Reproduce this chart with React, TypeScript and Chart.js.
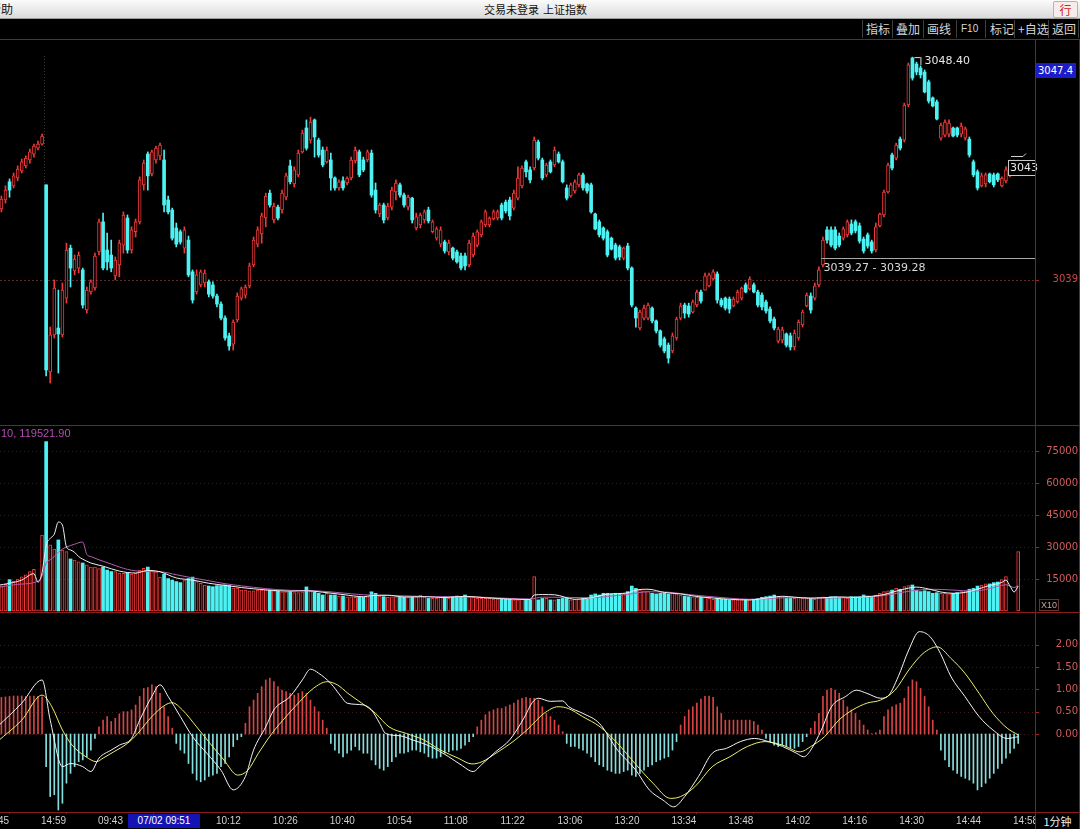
import React, { useEffect, useRef } from "react";
import { Chart, registerables } from "chart.js";
Chart.register(...registerables);

// ---------------- data ----------------
const timeTickIdx = [-4, 10, 24, 53, 67, 81, 95, 109, 123, 137, 151, 165, 179, 193, 207, 221, 235, 249];
const timeTickLabels = ["14:45", "14:59", "09:43", "10:12", "10:26", "10:40", "10:54", "11:08", "11:22", "13:06", "13:20", "13:34", "13:48", "14:02", "14:16", "14:30", "14:44", "14:58"];

const openP = [
  3041.82, 3041.99, 3042.37, 3043.14, 3042.97, 3043.30, 3043.60, 3043.81, 3044.06, 3044.31, 3044.56, 3044.73,
  3043.01, 3035.12, 3036.68, 3036.97, 3036.68, 3038.23, 3040.34, 3039.38, 3039.50, 3039.42,
  3037.73, 3038.49, 3038.66, 3040.18, 3041.45, 3040.26, 3040.05, 3039.17, 3039.63, 3040.47,
  3041.61, 3040.26, 3041.03, 3041.45, 3043.01, 3044.31, 3043.47, 3044.06, 3044.23, 3044.06,
  3042.37, 3041.95, 3041.19, 3041.03, 3040.34, 3040.68, 3039.34, 3038.49, 3038.79, 3038.87,
  3038.92, 3038.79, 3038.32, 3037.98, 3037.39, 3036.64, 3036.29, 3037.31, 3038.23, 3038.36,
  3038.75, 3039.63, 3040.51, 3040.94, 3041.61, 3042.66, 3041.53, 3042.07, 3041.95, 3042.49,
  3043.81, 3043.05, 3043.43, 3044.40, 3045.41, 3044.90, 3045.75, 3044.90, 3044.48, 3043.98,
  3044.06, 3043.30, 3042.88, 3043.18, 3043.09, 3043.30, 3044.02, 3044.40, 3044.06, 3044.06,
  3044.35, 3042.79, 3041.78, 3042.16, 3041.61, 3042.07, 3042.71, 3043.01, 3042.58, 3042.07,
  3042.45, 3041.19, 3041.32, 3041.53, 3041.95, 3041.03, 3040.76, 3040.51, 3040.60, 3040.18,
  3040.34, 3040.18, 3040.01, 3040.01, 3039.63, 3040.05, 3040.47, 3040.90, 3041.32, 3041.32,
  3041.57, 3041.61, 3042.16, 3042.28, 3042.37, 3042.03, 3042.45, 3042.97, 3043.98, 3043.64,
  3043.72, 3044.82, 3044.06, 3043.43, 3043.98, 3043.85, 3044.31, 3043.98, 3042.88, 3042.54,
  3042.75, 3043.01, 3043.43, 3043.05, 3043.01, 3041.78, 3041.45, 3041.19, 3041.03, 3040.76,
  3040.47, 3040.39, 3039.92, 3040.43, 3039.50, 3037.81, 3036.97, 3037.39, 3037.39, 3037.81,
  3037.27, 3036.85, 3036.51, 3036.25, 3036.00, 3036.55, 3037.39, 3037.94, 3037.90, 3037.64,
  3037.94, 3038.49, 3038.57, 3038.75, 3039.04, 3039.25, 3038.15, 3038.23, 3038.19, 3037.90,
  3038.07, 3038.23, 3038.79, 3038.62, 3038.79, 3038.49, 3038.36, 3038.07, 3037.77, 3037.35,
  3036.42, 3036.46, 3036.72, 3036.64, 3036.17, 3036.55, 3037.10, 3037.90, 3038.32, 3038.23,
  3038.79, 3039.63, 3041.11, 3041.11, 3041.11, 3040.85, 3040.76, 3040.90, 3041.36, 3041.45,
  3041.28, 3040.72, 3040.90, 3040.60, 3040.26, 3041.28, 3041.74, 3042.71, 3044.27, 3044.14,
  3044.94, 3044.90, 3046.38, 3048.36, 3048.11, 3047.94, 3047.77, 3047.35, 3046.68, 3046.51,
  3044.98, 3045.11, 3045.15, 3045.41, 3045.41, 3045.15, 3044.98, 3044.94, 3043.98, 3043.56,
  3042.97, 3043.05, 3043.47, 3043.43, 3043.47, 3042.97, 3043.18, 3043.43, 3043.60, 3043.51,
];
const highP = [
  3042.37, 3042.54, 3042.97, 3043.26, 3043.51, 3043.81, 3044.10, 3044.23, 3044.52, 3044.73, 3044.86, 3045.15,
  3043.01, 3037.01, 3039.00, 3038.57, 3038.87, 3040.55, 3040.47, 3040.05, 3040.18, 3039.50,
  3038.70, 3039.00, 3040.13, 3041.57, 3041.82, 3040.98, 3040.68, 3039.97, 3040.68, 3041.87,
  3041.74, 3041.24, 3041.57, 3043.35, 3044.06, 3044.40, 3044.48, 3044.65, 3044.77, 3044.48,
  3042.54, 3042.03, 3041.40, 3041.11, 3041.24, 3040.85, 3039.42, 3039.42, 3039.42, 3039.42,
  3039.00, 3038.92, 3038.40, 3038.07, 3037.48, 3036.76, 3037.31, 3038.45, 3038.70, 3038.79,
  3039.71, 3040.81, 3041.24, 3041.82, 3042.66, 3042.79, 3042.24, 3042.16, 3042.79, 3043.51,
  3044.06, 3043.77, 3044.48, 3045.32, 3045.75, 3045.87, 3045.79, 3044.98, 3044.61, 3044.61,
  3044.35, 3043.35, 3043.22, 3043.35, 3043.35, 3044.18, 3044.61, 3044.48, 3044.18, 3044.48,
  3044.48, 3043.09, 3042.24, 3042.24, 3042.24, 3042.92, 3043.22, 3043.09, 3042.66, 3042.58,
  3042.49, 3041.82, 3041.82, 3041.95, 3042.07, 3041.53, 3041.24, 3041.24, 3040.68, 3040.68,
  3040.39, 3040.26, 3040.13, 3040.13, 3040.68, 3040.98, 3041.11, 3041.53, 3041.95, 3041.66,
  3041.95, 3041.95, 3042.24, 3042.37, 3042.49, 3042.79, 3043.77, 3043.81, 3044.06, 3043.77,
  3045.03, 3044.90, 3044.14, 3043.93, 3044.06, 3044.61, 3044.40, 3044.06, 3043.01, 3043.09,
  3043.22, 3043.51, 3043.51, 3043.09, 3043.09, 3041.82, 3041.53, 3041.24, 3041.11, 3040.81,
  3040.55, 3040.47, 3040.39, 3040.55, 3039.55, 3037.86, 3037.73, 3037.94, 3038.02, 3037.86,
  3037.31, 3036.89, 3036.59, 3036.34, 3036.76, 3037.43, 3038.02, 3038.02, 3038.02, 3038.15,
  3038.57, 3038.57, 3039.29, 3039.29, 3039.42, 3039.34, 3038.23, 3038.28, 3038.28, 3038.28,
  3038.57, 3038.70, 3038.87, 3039.13, 3038.87, 3038.57, 3038.45, 3038.15, 3037.86, 3037.43,
  3037.01, 3037.01, 3036.76, 3036.76, 3036.89, 3037.31, 3037.73, 3038.45, 3038.45, 3038.87,
  3039.55, 3040.81, 3041.24, 3041.24, 3041.24, 3040.98, 3041.24, 3041.53, 3041.53, 3041.53,
  3041.40, 3040.81, 3040.98, 3040.68, 3041.40, 3041.82, 3042.79, 3043.93, 3044.35, 3044.77,
  3045.03, 3046.46, 3048.15, 3048.40, 3048.19, 3048.03, 3047.86, 3047.43, 3046.72, 3046.59,
  3045.62, 3045.75, 3045.75, 3045.45, 3045.45, 3045.62, 3045.45, 3045.03, 3044.06, 3043.64,
  3043.51, 3043.51, 3043.51, 3043.51, 3043.51, 3043.35, 3043.77, 3044.06, 3044.06, 3044.06,
];
const lowP = [
  3041.74, 3041.87, 3042.24, 3042.49, 3042.88, 3043.18, 3043.51, 3043.72, 3043.93, 3044.18, 3044.48, 3044.69,
  3034.95, 3034.65, 3036.55, 3035.07, 3036.59, 3038.02, 3038.70, 3039.21, 3039.29, 3037.81,
  3037.60, 3038.40, 3038.57, 3040.05, 3039.42, 3039.42, 3039.34, 3039.00, 3039.13, 3040.13,
  3040.13, 3040.13, 3040.81, 3041.36, 3042.79, 3042.79, 3043.39, 3043.93, 3044.06, 3041.87,
  3041.78, 3040.68, 3040.39, 3040.51, 3040.13, 3039.13, 3038.02, 3038.40, 3038.70, 3038.70,
  3038.28, 3038.23, 3037.86, 3037.31, 3036.46, 3036.04, 3036.04, 3037.22, 3038.15, 3038.23,
  3038.66, 3039.55, 3040.39, 3040.55, 3041.24, 3042.07, 3041.40, 3041.53, 3041.82, 3042.37,
  3043.05, 3042.92, 3043.35, 3044.35, 3044.48, 3044.77, 3044.18, 3044.18, 3043.77, 3043.93,
  3042.79, 3042.79, 3042.79, 3042.79, 3043.01, 3043.22, 3043.93, 3043.35, 3043.56, 3043.98,
  3042.49, 3041.82, 3041.66, 3041.40, 3041.53, 3041.95, 3042.37, 3042.49, 3042.07, 3041.95,
  3041.40, 3041.11, 3041.19, 3041.40, 3041.40, 3040.98, 3040.68, 3040.39, 3040.13, 3040.05,
  3039.84, 3039.71, 3039.42, 3039.42, 3039.55, 3039.97, 3040.39, 3040.81, 3041.24, 3041.24,
  3041.53, 3041.53, 3041.53, 3041.82, 3041.53, 3041.95, 3042.37, 3042.88, 3043.35, 3043.09,
  3043.64, 3044.06, 3043.22, 3043.35, 3043.51, 3043.77, 3043.93, 3043.09, 3042.37, 3042.49,
  3042.66, 3042.92, 3042.79, 3042.66, 3041.82, 3041.11, 3040.81, 3040.68, 3039.97, 3040.26,
  3039.84, 3039.84, 3039.84, 3039.42, 3037.86, 3037.01, 3036.89, 3037.31, 3037.31, 3037.18,
  3036.76, 3036.17, 3035.92, 3035.49, 3035.92, 3036.46, 3037.31, 3037.39, 3037.43, 3037.60,
  3037.86, 3038.02, 3038.57, 3038.70, 3039.00, 3038.02, 3037.86, 3037.73, 3037.60, 3037.86,
  3038.02, 3038.15, 3038.45, 3038.57, 3038.45, 3037.86, 3037.73, 3037.60, 3037.18, 3036.89,
  3036.34, 3036.34, 3036.17, 3036.04, 3036.04, 3036.46, 3037.01, 3037.86, 3037.60, 3038.15,
  3038.70, 3039.55, 3040.55, 3040.39, 3040.26, 3040.39, 3040.68, 3040.81, 3040.90, 3040.98,
  3040.55, 3040.13, 3040.34, 3040.13, 3040.18, 3041.24, 3041.66, 3042.66, 3043.64, 3044.06,
  3044.48, 3044.82, 3046.30, 3047.43, 3047.65, 3047.52, 3046.89, 3046.46, 3046.30, 3045.75,
  3044.90, 3045.03, 3045.03, 3045.03, 3045.03, 3045.03, 3044.90, 3044.18, 3043.35, 3042.79,
  3042.92, 3042.92, 3043.09, 3042.92, 3043.14, 3042.92, 3043.09, 3043.35, 3043.51, 3043.47,
];
const closeP = [
  3042.24, 3042.41, 3042.79, 3042.79, 3043.39, 3043.68, 3043.98, 3044.14, 3044.40, 3044.65, 3044.73, 3045.07,
  3035.20, 3036.68, 3038.66, 3036.72, 3038.57, 3040.26, 3039.50, 3039.88, 3040.05, 3037.94,
  3038.57, 3038.92, 3040.01, 3041.45, 3039.50, 3039.76, 3039.50, 3039.84, 3040.55, 3041.74,
  3040.26, 3041.11, 3041.45, 3043.22, 3043.93, 3043.39, 3044.40, 3044.56, 3044.69, 3042.16,
  3041.87, 3040.76, 3040.51, 3040.60, 3041.11, 3039.21, 3038.15, 3039.21, 3039.34, 3039.29,
  3038.40, 3038.32, 3037.98, 3037.39, 3036.55, 3036.21, 3037.22, 3038.32, 3038.62, 3038.70,
  3039.59, 3040.68, 3041.11, 3041.70, 3042.54, 3042.16, 3042.12, 3041.61, 3042.66, 3043.39,
  3043.14, 3043.64, 3044.35, 3045.19, 3044.56, 3045.66, 3045.03, 3044.27, 3043.85, 3044.48,
  3043.30, 3042.88, 3043.14, 3042.88, 3043.30, 3044.06, 3044.48, 3043.43, 3043.64, 3044.40,
  3042.58, 3041.95, 3042.16, 3041.53, 3042.12, 3042.79, 3043.09, 3042.58, 3042.16, 3042.49,
  3041.53, 3041.66, 3041.74, 3041.87, 3041.49, 3041.45, 3041.15, 3041.11, 3040.22, 3040.55,
  3039.92, 3039.76, 3039.50, 3039.59, 3040.55, 3040.85, 3041.03, 3041.45, 3041.87, 3041.61,
  3041.87, 3041.87, 3041.61, 3041.91, 3041.70, 3042.66, 3043.30, 3043.72, 3043.56, 3043.22,
  3044.90, 3044.14, 3043.30, 3043.85, 3043.56, 3044.48, 3043.98, 3043.14, 3042.45, 3043.01,
  3043.14, 3043.43, 3042.88, 3042.75, 3041.87, 3041.15, 3040.90, 3040.76, 3040.05, 3040.30,
  3039.92, 3039.97, 3040.34, 3039.50, 3037.94, 3037.39, 3037.64, 3037.81, 3037.94, 3037.27,
  3036.85, 3036.25, 3036.00, 3035.70, 3036.64, 3037.35, 3037.90, 3037.60, 3037.56, 3038.07,
  3038.49, 3038.11, 3039.17, 3039.21, 3039.34, 3038.15, 3037.94, 3037.81, 3037.77, 3038.19,
  3038.49, 3038.66, 3038.49, 3039.04, 3038.49, 3037.94, 3037.86, 3037.69, 3037.27, 3036.97,
  3036.93, 3036.89, 3036.25, 3036.17, 3036.76, 3037.22, 3037.64, 3038.36, 3037.73, 3038.75,
  3039.42, 3040.68, 3040.68, 3040.47, 3040.34, 3040.47, 3041.15, 3041.45, 3040.98, 3041.07,
  3040.64, 3040.22, 3040.43, 3040.22, 3041.24, 3041.78, 3042.71, 3043.85, 3043.72, 3044.69,
  3044.56, 3046.38, 3048.07, 3047.52, 3047.77, 3047.65, 3046.93, 3046.55, 3046.34, 3045.79,
  3045.53, 3045.66, 3045.62, 3045.07, 3045.11, 3045.49, 3045.37, 3044.27, 3043.43, 3042.88,
  3043.39, 3043.43, 3043.14, 3043.01, 3043.22, 3043.30, 3043.64, 3043.85, 3043.89, 3043.72,
];

// volume in axis units (axis shows x10)
const volume = [
  12000, 11800, 12500, 14700, 14000, 15000, 16000, 17000, 18500, 19500, 500, 35600,
  79400, 31000, 29000, 33300, 28600, 27800, 24400, 23900, 23000, 22500,
  21600, 20600, 20600, 19900, 20600, 19200, 18500, 18500, 17800, 17600,
  18000, 17300, 17600, 19200, 20000, 20600, 19200, 18400, 15900, 17300,
  15200, 14500, 13800, 13300, 14500, 15200, 15900, 13800, 13000, 12200,
  11700, 11400, 11900, 11900, 12200, 11900, 10800, 10800, 9800, 9800,
  9500, 9500, 9800, 9800, 9800, 9800, 9500, 9300, 9000, 9000,
  9000, 8600, 8600, 9000, 11300, 9500, 9000, 8300, 7500, 8300,
  7500, 7500, 7000, 7000, 6700, 6700, 6400, 6700, 6400, 6700,
  9000, 8300, 7000, 6700, 6400, 6700, 6700, 6400, 6400, 6400,
  6400, 6700, 7500, 6700, 5900, 5900, 5900, 6400, 6700, 5900,
  6700, 7000, 6700, 7500, 6700, 6400, 5900, 5900, 5900, 5900,
  5600, 5600, 5500, 5500, 5500, 5200, 5200, 5500, 5500, 5200,
  16100, 5200, 5900, 5900, 5200, 5200, 5500, 5900, 5900, 5200,
  5500, 5500, 5900, 5500, 7500, 8000, 7500, 8300, 8300, 8000,
  8300, 8000, 8300, 9100, 11700, 10600, 9800, 9500, 9500, 8300,
  8000, 8300, 8300, 8000, 8300, 8000, 7500, 7000, 6700, 6700,
  6400, 6400, 6400, 5900, 5500, 5900, 5500, 5500, 5200, 5200,
  5200, 5200, 5200, 5200, 5500, 5900, 6400, 6700, 7000, 7500,
  7000, 6700, 5900, 5900, 5900, 6400, 5900, 5900, 5900, 5500,
  6400, 6700, 6400, 6700, 6700, 6400, 6400, 5900, 6700, 6700,
  6700, 7500, 7000, 6700, 7500, 8300, 9100, 9500, 9800, 10600,
  10200, 11400, 11900, 12200, 9800, 9100, 9500, 9100, 8300, 8600,
  8300, 8300, 8000, 8300, 8600, 9100, 9500, 10200, 10600, 11700,
  12200, 12700, 12700, 13300, 13600, 14700, 16100, 0, 0, 27800,
];

// volume moving averages at sample candles: [index, value]
const volMa5 = [
  [0, 12000], [3, 13000], [6, 14500], [9, 17500], [10, 13500], [11, 18000], [12, 30700], [13, 34000], [14, 36000],
  [15, 41700], [16, 40300], [17, 30000], [18, 28600], [19, 27500], [20, 25500], [21, 24300], [23, 22500], [26, 21000],
  [30, 18700], [34, 17800], [37, 19000], [40, 18400], [44, 15500], [48, 14500], [52, 13000], [56, 12000], [60, 11000],
  [66, 9900], [72, 9300], [76, 9500], [80, 8800], [85, 7700], [90, 6700], [92, 7200], [96, 7400], [100, 6600],
  [105, 6700], [110, 6300], [115, 6900], [120, 6200], [126, 5600], [131, 5400], [132, 7500], [134, 7700], [137, 7600],
  [142, 5500], [146, 6200], [150, 7900], [155, 8500], [157, 9800], [160, 10200], [164, 8700], [168, 8000], [172, 6800],
  [176, 6100], [180, 5500], [185, 5200], [190, 6300], [193, 6900], [196, 6500], [200, 6000], [203, 6200], [207, 6600],
  [211, 6400], [215, 6900], [218, 7700], [221, 9300], [224, 10700], [226, 11200], [229, 10300], [232, 8900], [235, 8300],
  [238, 8700], [241, 10200], [244, 12000], [247, 13400], [248, 14500], [249, 11700], [250, 8900], [251, 11700],
];
const volMa10 = [
  [0, 11000], [5, 12500], [10, 14000], [11, 16500], [12, 22500], [13, 24000], [14, 25500], [15, 27500], [16, 29000],
  [17, 30000], [18, 30700], [19, 31300], [20, 32000], [21, 32300], [22, 26500], [23, 25500], [25, 24000], [28, 22000],
  [32, 19500], [36, 18500], [40, 18400], [44, 17000], [48, 15500], [52, 14200], [56, 12800], [60, 11800], [66, 10500],
  [72, 9700], [78, 9500], [84, 8600], [90, 7600], [96, 7300], [102, 7000], [108, 6700], [114, 6700], [120, 6400],
  [126, 5900], [131, 5600], [134, 6500], [140, 6400], [146, 6200], [150, 6800], [155, 7800], [160, 9000], [165, 8800],
  [170, 7700], [175, 6800], [180, 6000], [185, 5500], [190, 5900], [195, 6300], [200, 6100], [205, 6100], [210, 6300],
  [215, 6600], [220, 7900], [225, 9500], [230, 10200], [235, 9800], [240, 9300], [244, 10500], [248, 12300], [250, 11000],
  [251, 11950],
];

const macdHist = [
  0.80, 0.82, 0.83, 0.84, 0.85, 0.85, 0.85, 0.84, 0.85, 0.85, 0.84, 0.83,
  -0.73, -1.40, -1.36, -1.70, -1.55, -1.10, -0.88, -0.73, -0.62, -0.58,
  -0.51, -0.36, -0.10, 0.16, 0.31, 0.39, 0.28, 0.35, 0.45, 0.50,
  0.50, 0.54, 0.65, 0.84, 1.02, 1.04, 1.10, 1.06, 0.91, 0.61,
  0.39, 0.13, -0.21, -0.36, -0.43, -0.66, -0.88, -1.03, -1.07, -1.03,
  -0.95, -0.92, -0.88, -0.73, -0.66, -0.51, -0.28, -0.13, -0.06, 0.24,
  0.61, 0.76, 0.91, 1.06, 1.21, 1.25, 1.17, 1.06, 0.98, 0.95,
  0.91, 0.87, 0.91, 0.95, 0.91, 0.76, 0.61, 0.50, 0.31, 0.13,
  -0.21, -0.36, -0.43, -0.51, -0.43, -0.36, -0.28, -0.36, -0.43, -0.43,
  -0.58, -0.69, -0.77, -0.81, -0.73, -0.62, -0.51, -0.43, -0.43, -0.40,
  -0.36, -0.36, -0.40, -0.43, -0.51, -0.54, -0.54, -0.51, -0.43, -0.40,
  -0.36, -0.36, -0.32, -0.25, -0.17, -0.06, 0.16, 0.31, 0.43, 0.50,
  0.54, 0.57, 0.57, 0.61, 0.65, 0.69, 0.76, 0.80, 0.82, 0.80,
  0.80, 0.76, 0.61, 0.46, 0.39, 0.31, 0.20, 0.05, -0.21, -0.28,
  -0.28, -0.32, -0.36, -0.43, -0.51, -0.62, -0.69, -0.73, -0.81, -0.84,
  -0.88, -0.88, -0.84, -0.81, -0.92, -0.95, -0.88, -0.81, -0.73, -0.69,
  -0.62, -0.58, -0.54, -0.51, -0.36, -0.17, 0.20, 0.39, 0.54, 0.61,
  0.69, 0.78, 0.84, 0.85, 0.82, 0.61, 0.46, 0.31, 0.31, 0.31,
  0.31, 0.31, 0.31, 0.31, 0.28, 0.20, 0.09, -0.10, -0.17, -0.25,
  -0.28, -0.25, -0.28, -0.32, -0.32, -0.28, -0.17, -0.06, 0.13, 0.28,
  0.46, 0.84, 0.98, 1.02, 0.98, 0.91, 0.76, 0.61, 0.54, 0.46,
  0.31, 0.20, 0.09, 0.01, 0.03, 0.09, 0.39, 0.54, 0.61, 0.65,
  0.69, 0.80, 1.06, 1.21, 1.17, 1.02, 0.84, 0.61, 0.31, 0.09,
  -0.36, -0.58, -0.73, -0.81, -0.88, -0.95, -0.99, -1.03, -1.10, -1.25,
  -1.18, -1.10, -0.99, -0.88, -0.77, -0.66, -0.54, -0.43, -0.32, -0.21,
];

// DIF / DEA read at sample candles: [index, value]
const difLine = [
  [0, 0.16], [6, 0.69], [11, 1.21], [13, 0.31], [16, -0.73], [18, -0.66], [21, -0.73], [23, -0.84], [25, -0.54],
  [28, -0.36], [30, -0.25], [33, -0.10], [35, 0.31], [38, 0.84], [40, 1.10], [42, 0.84], [45, 0.39], [48, -0.06],
  [51.5, -0.43], [55, -0.81], [58, -1.25], [61, -0.95], [63, -0.36], [66, 0.16], [68, 0.54], [72, 0.84], [75, 1.21],
  [77, 1.45], [79, 1.36], [82, 1.13], [84.5, 0.84], [86, 0.69], [90, 0.65], [92, 0.54], [94, 0.24], [95.5, 0.01],
  [99, -0.04], [102, -0.13], [106.5, -0.28], [111, -0.51], [114, -0.69], [117, -0.84], [119, -0.69], [122.5, -0.40],
  [126, -0.13], [129.5, 0.36], [131.5, 0.70], [133, 0.80], [136, 0.73], [139, 0.74], [140.5, 0.61], [144, 0.46],
  [148, 0.24], [152.5, -0.36], [157, -0.81], [160.3, -1.25], [163.7, -1.48], [166.3, -1.63], [169, -1.40],
  [172.4, -0.95], [175.8, -0.43], [179.3, -0.32], [182.7, -0.17], [186.2, -0.10], [189.6, -0.17], [193.1, -0.28],
  [196.5, -0.43], [198.3, -0.51], [200, -0.36], [202.6, 0.09], [205.1, 0.61], [208.6, 0.84], [211.2, 0.98],
  [213.8, 0.91], [217.2, 0.80], [218.9, 0.84], [221.5, 1.28], [224.1, 1.88], [226.7, 2.29], [229.3, 2.18],
  [231.9, 1.80], [234.5, 1.28], [237.9, 0.84], [241.4, 0.39], [244.8, 0.09], [248.3, -0.10], [251, -0.06],
];
const deaLine = [
  [0, -0.17], [6, 0.31], [11, 0.87], [13.4, 0.61], [16, 0.09], [18.4, -0.25], [21.8, -0.51], [24.4, -0.62], [26, -0.54],
  [28.6, -0.40], [32, -0.21], [34.5, 0.01], [38, 0.39], [41.3, 0.65], [43, 0.70], [45.5, 0.54], [49, 0.16], [52.3, -0.21],
  [55.7, -0.58], [59.1, -0.92], [61.6, -0.81], [64.2, -0.43], [67.5, 0.01], [71, 0.39], [74.3, 0.72], [77.7, 1.02],
  [81.1, 1.17], [83.6, 1.10], [86.2, 0.91], [89.6, 0.69], [93, 0.46], [96.3, 0.16], [100.6, 0.01], [104.8, -0.13],
  [109, -0.36], [113.3, -0.54], [116.7, -0.67], [119.2, -0.62], [122.6, -0.43], [126.8, -0.17], [130.2, 0.09],
  [132.5, 0.30], [134.4, 0.46], [137.9, 0.61], [140.4, 0.57], [143.9, 0.39], [148.2, 0.16], [152.5, -0.21],
  [156.8, -0.66], [161.2, -1.10], [165.5, -1.44], [168, -1.40], [171.5, -1.18], [175.8, -0.73], [180.1, -0.51],
  [184.4, -0.28], [188.8, -0.17], [193.1, -0.25], [197.4, -0.40], [200, -0.28], [203.4, -0.06], [206.9, 0.31],
  [210.3, 0.54], [213.8, 0.69], [217.2, 0.76], [220.7, 0.98], [224.1, 1.43], [227.6, 1.80], [231.1, 1.95],
  [234.5, 1.69], [237.9, 1.36], [241.4, 0.91], [244.8, 0.46], [248.3, 0.13], [251, -0.02],
];

const priceTicks = [3039];
const volTicks = [15000, 30000, 45000, 60000, 75000];
const macdTicks = [0, 0.5, 1, 1.5, 2];

const toolButtons = ["指标", "叠加", "画线", "F10", "标记", "+自选", "返回"];
const titleText = ["交易未登录", "上证指数"];
const volTitle = "10, 119521.90";
const cursorPriceLabel = "3047.4";
const cursorTimeLabel = "07/02 09:51";
const periodLabel = "1分钟";
const markLineValue = 3039.93;
const markLineStart = 202.5;
const markLineText = "3039.27 - 3039.28";

// ---------------- layout / style ----------------
const X_MIN = -5.245;
const X_MAX = 255.14;
const RED = "#f03a3a";
const CYAN = "#4ef2f2";
const H_RED = "#d84444";
const H_CYAN = "#86dede";
const FRAME = "#8a1c1c";
const AXIS_FONT = { family: "DejaVu Sans", size: 10 };

const hGridPlugin = {
  id: "hgrid",
  beforeDatasetsDraw(chart: any, _a: any, opts: any) {
    const { ctx, chartArea: a, scales } = chart;
    const y = scales.y;
    ctx.save();
    for (const v of opts.values || []) {
      const py = Math.round(y.getPixelForValue(v)) + 0.5;
      ctx.strokeStyle = opts.color;
      ctx.lineWidth = 1;
      ctx.setLineDash(opts.dash || []);
      ctx.beginPath();
      ctx.moveTo(a.left, py);
      ctx.lineTo(a.right, py);
      ctx.stroke();
      ctx.setLineDash([]);
      ctx.strokeStyle = opts.tickColor;
      ctx.beginPath();
      ctx.moveTo(a.right, py);
      ctx.lineTo(a.right + 4, py);
      ctx.stroke();
    }
    ctx.restore();
  },
};

const mainAnnotPlugin = {
  id: "mainAnnot",
  afterDatasetsDraw(chart: any) {
    const { ctx, chartArea: a, scales } = chart;
    const x = scales.x;
    const y = scales.y;
    ctx.save();
    // day separator
    const sx = Math.round((x.getPixelForValue(11) + x.getPixelForValue(12)) / 2) + 0.5;
    ctx.strokeStyle = "#3a3a3a";
    ctx.setLineDash([1, 2]);
    ctx.beginPath();
    ctx.moveTo(sx, a.top + 15);
    ctx.lineTo(sx, y.getPixelForValue(highP[12]) - 2);
    ctx.stroke();
    ctx.setLineDash([]);

    // highest price marker
    let hi = 0;
    highP.forEach((v, i) => { if (v > highP[hi]) hi = i; });
    const hx = x.getPixelForValue(hi);
    const hy = y.getPixelForValue(highP[hi]);
    ctx.strokeStyle = "#dcdcdc";
    ctx.lineWidth = 1;
    ctx.beginPath();
    ctx.moveTo(hx + 2, hy + 0.5);
    ctx.lineTo(hx + 8, hy + 0.5);
    ctx.moveTo(hx + 8.5, hy);
    ctx.lineTo(hx + 8.5, hy + 8);
    ctx.stroke();
    ctx.fillStyle = "#e6e6e6";
    ctx.font = '11px "DejaVu Sans"';
    ctx.textBaseline = "middle";
    ctx.fillText(highP[hi].toFixed(2), hx + 12, hy + 4);

    // user drawn horizontal line
    const mx = Math.round(x.getPixelForValue(markLineStart)) + 0.5;
    const my = Math.round(y.getPixelForValue(markLineValue)) + 0.5;
    ctx.strokeStyle = "#a8a8a8";
    ctx.beginPath();
    ctx.moveTo(mx, my);
    ctx.lineTo(a.right, my);
    ctx.stroke();
    ctx.fillStyle = "#d8d8d8";
    ctx.font = '11px "DejaVu Sans"';
    ctx.textBaseline = "top";
    ctx.fillText(markLineText, mx + 2, my + 4);

    // last price box
    const last = closeP.length - 1;
    const ly = Math.round(y.getPixelForValue(closeP[last]));
    const bx = a.right - 27;
    ctx.fillStyle = "#000";
    ctx.fillRect(bx, ly - 8, 27, 16);
    ctx.strokeStyle = "#c8c8c8";
    ctx.strokeRect(bx + 0.5, ly - 7.5, 27, 15);
    ctx.fillStyle = "#e8e8e8";
    ctx.textBaseline = "middle";
    ctx.fillText(String(Math.floor(closeP[last])), bx + 2, ly + 0.5);
    ctx.strokeStyle = "#d0d0d0";
    ctx.beginPath();
    ctx.moveTo(bx + 3, ly - 11.5);
    ctx.lineTo(bx + 15, ly - 11.5);
    ctx.lineTo(bx + 18, ly - 14.5);
    ctx.stroke();
    ctx.restore();
  },
};

const xScale = (display: boolean): any => ({
  type: "linear",
  min: X_MIN,
  max: X_MAX,
  display,
  offset: false,
  grid: { display: display, drawOnChartArea: false, drawTicks: true, tickLength: 2, color: FRAME, tickColor: FRAME },
  border: { display: false },
  afterBuildTicks: (s: any) => {
    s.ticks = timeTickIdx.map((v) => ({ value: v }));
  },
  afterFit: (s: any) => {
    s.height = display ? 17 : 0;
    s.paddingLeft = 0;
    s.paddingRight = 0;
    s.paddingTop = 0;
    s.paddingBottom = 0;
  },
  ticks: {
    autoSkip: false,
    maxRotation: 0,
    minRotation: 0,
    align: "start",
    labelOffset: 3,
    padding: 1,
    color: "#cfcfcf",
    font: { family: "Liberation Sans", size: 10 },
    callback: (v: number) => {
      const k = timeTickIdx.indexOf(v);
      return k >= 0 ? timeTickLabels[k] : "";
    },
  },
});

const yScale = (min: number, max: number, ticks: number[], fmt: (v: number) => string, color: string): any => ({
  type: "linear",
  position: "right",
  min,
  max,
  grid: { display: false },
  border: { display: false },
  afterBuildTicks: (s: any) => {
    s.ticks = ticks.map((v) => ({ value: v }));
  },
  afterFit: (s: any) => {
    s.width = 43;
    s.paddingTop = 0;
    s.paddingBottom = 0;
    s.paddingLeft = 0;
    s.paddingRight = 0;
  },
  ticks: { color, font: AXIS_FONT, padding: 2, crossAlign: "far", callback: fmt },
});

const baseOptions = (scales: any, plugins: any): any => ({
  responsive: false,
  animation: false,
  events: [],
  layout: { padding: 0 },
  plugins: { legend: { display: false }, tooltip: { enabled: false }, ...plugins },
  scales,
});

export default function App() {
  const mainRef = useRef<HTMLCanvasElement>(null);
  const volRef = useRef<HTMLCanvasElement>(null);
  const macdRef = useRef<HTMLCanvasElement>(null);

  useEffect(() => {
    const up = openP.map((o, i) => closeP[i] >= o);
    const cColor = up.map((u) => (u ? RED : CYAN));

    const main = new Chart(mainRef.current as HTMLCanvasElement, {
      type: "bar",
      data: {
        datasets: [
          {
            type: "bar",
            data: openP.map((o, i) => ({ x: i, y: [Math.min(o, closeP[i]), Math.max(o, closeP[i])] })) as any,
            backgroundColor: up.map((u) => (u ? "#000000" : CYAN)),
            borderColor: cColor,
            borderWidth: up.map((u) => (u ? 1 : 0)) as any,
            borderSkipped: false,
            barThickness: 3,
            grouped: false,
          } as any,
          {
            type: "bar",
            data: lowP.map((l, i) => ({ x: i, y: [l, highP[i]] })) as any,
            backgroundColor: cColor,
            borderWidth: 0,
            barThickness: 1,
            grouped: false,
          } as any,
        ],
      },
      options: baseOptions(
        {
          x: xScale(false),
          y: yScale(3032.878, 3049.08, priceTicks, (v) => String(v), "#c84848"),
        },
        { hgrid: { values: priceTicks, color: "#5a2c2c", dash: [2, 2], tickColor: "#a02424" } }
      ),
      plugins: [hGridPlugin, mainAnnotPlugin],
    });

    const vol = new Chart(volRef.current as HTMLCanvasElement, {
      type: "bar",
      data: {
        datasets: [
          {
            type: "line",
            data: volMa5.map(([x, y]) => ({ x, y })) as any,
            borderColor: "#f0f0f0",
            borderWidth: 1,
            pointRadius: 0,
            cubicInterpolationMode: "monotone",
          } as any,
          {
            type: "line",
            data: volMa10.map(([x, y]) => ({ x, y })) as any,
            borderColor: "#b060b0",
            borderWidth: 1,
            pointRadius: 0,
            cubicInterpolationMode: "monotone",
          } as any,
          {
            type: "bar",
            data: volume.map((v, i) => ({ x: i, y: v })) as any,
            backgroundColor: up.map((u) => (u ? "#1a0000" : CYAN)),
            borderColor: cColor,
            borderWidth: up.map((u) => (u ? 1 : 0)) as any,
            borderSkipped: false,
            barThickness: 3,
            grouped: false,
          } as any,
        ],
      },
      options: baseOptions(
        {
          x: xScale(false),
          y: yScale(-468.75, 86718.75, volTicks, (v) => String(v), "#d25c5c"),
        },
        { hgrid: { values: volTicks, color: "#3c1c1c", dash: [1, 3], tickColor: "#a02424" } }
      ),
      plugins: [hGridPlugin],
    });

    const macd = new Chart(macdRef.current as HTMLCanvasElement, {
      type: "bar",
      data: {
        datasets: [
          {
            type: "line",
            data: difLine.map(([x, y]) => ({ x, y })) as any,
            borderColor: "#f4f4f4",
            borderWidth: 1,
            pointRadius: 0,
            cubicInterpolationMode: "monotone",
          } as any,
          {
            type: "line",
            data: deaLine.map(([x, y]) => ({ x, y })) as any,
            borderColor: "#eeee70",
            borderWidth: 1,
            pointRadius: 0,
            cubicInterpolationMode: "monotone",
          } as any,
          {
            type: "bar",
            data: macdHist.map((v, i) => ({ x: i, y: v })) as any,
            backgroundColor: macdHist.map((v) => (v >= 0 ? H_RED : H_CYAN)),
            borderWidth: 0,
            barThickness: 1,
            grouped: false,
          } as any,
        ],
      },
      options: baseOptions(
        {
          x: xScale(true),
          y: yScale(-1.745, 2.7069, macdTicks, (v) => v.toFixed(2), "#d25c5c"),
        },
        { hgrid: { values: macdTicks, color: "#3c1c1c", dash: [1, 3], tickColor: "#a02424" } }
      ),
      plugins: [hGridPlugin],
    });

    return () => {
      main.destroy();
      vol.destroy();
      macd.destroy();
    };
  }, []);

  const cjk = '"Noto Sans CJK SC", sans-serif';
  const btnLefts = [866, 896, 927, 961, 990, 1018, 1052];
  const sepLefts = [862, 892, 923, 956, 985, 1014, 1048, 1078];

  return (
    <div style={{ position: "fixed", left: 0, top: 0, width: 1080, height: 829, background: "#000", overflow: "hidden" }}>
      {/* title bar */}
      <div style={{ position: "absolute", left: 0, top: 0, width: 1080, height: 18, background: "linear-gradient(#fbfbfb, #dadada)", borderBottom: "1px solid #9c9c9c" }}>
        <span style={{ position: "absolute", left: -11, top: 0, fontFamily: cjk, fontSize: 12, lineHeight: "18px", color: "#111" }}>帮助</span>
        <span style={{ position: "absolute", left: 484, top: 0, fontFamily: cjk, fontSize: 11, lineHeight: "18px", color: "#111" }}>{titleText[0]}</span>
        <span style={{ position: "absolute", left: 543, top: 0, fontFamily: cjk, fontSize: 11, lineHeight: "18px", color: "#111" }}>{titleText[1]}</span>
        <div style={{ position: "absolute", left: 1053, top: 1, width: 23, height: 15, border: "1px solid #c9a9a9", borderRadius: 2, background: "#f6ecec", color: "#d42020", fontFamily: cjk, fontSize: 12, lineHeight: "15px", textAlign: "center" }}>行</div>
      </div>
      {/* toolbar */}
      {sepLefts.map((l, k) => (
        <div key={"s" + k} style={{ position: "absolute", left: l, top: 20, width: 1, height: 18, background: "#3e3e3e" }} />
      ))}
      {toolButtons.map((b, k) => (
        <span key={"b" + k} style={{ position: "absolute", left: btnLefts[k], top: 20, fontFamily: b === "F10" ? "Liberation Sans" : cjk, fontSize: b === "F10" ? 10 : 12, lineHeight: "18px", color: "#d6d6d6" }}>{b}</span>
      ))}

      <canvas ref={mainRef} width={1102} height={384} style={{ position: "absolute", left: -24, top: 41 }} />
      <canvas ref={volRef} width={1102} height={186} style={{ position: "absolute", left: -24, top: 426 }} />
      <canvas ref={macdRef} width={1102} height={216} style={{ position: "absolute", left: -24, top: 613 }} />

      {/* frame lines */}
      <div style={{ position: "absolute", left: 0, top: 39, width: 1080, height: 1, background: FRAME }} />
      <div style={{ position: "absolute", left: 0, top: 425, width: 1080, height: 1, background: FRAME }} />
      <div style={{ position: "absolute", left: 0, top: 612, width: 1080, height: 1, background: FRAME }} />
      <div style={{ position: "absolute", left: 0, top: 812, width: 1080, height: 1, background: FRAME }} />
      <div style={{ position: "absolute", left: 1035, top: 40, width: 1, height: 789, background: FRAME }} />
      <div style={{ position: "absolute", left: 1079, top: 40, width: 1, height: 789, background: FRAME }} />

      {/* overlays */}
      <div style={{ position: "absolute", left: 1036, top: 63, width: 38, height: 15, background: "#1c1cc8", color: "#fff", fontFamily: "DejaVu Sans", fontSize: 10, lineHeight: "15px", paddingLeft: 2 }}>{cursorPriceLabel}</div>
      <div style={{ position: "absolute", left: 1, top: 427, color: "#b44cb4", fontFamily: "Liberation Sans", fontSize: 11, lineHeight: "13px" }}>{volTitle}</div>
      <div style={{ position: "absolute", left: 1039, top: 599, color: "#c8a0a0", fontFamily: "Liberation Sans", fontSize: 9, lineHeight: "10px", border: "1px solid #6a3030", padding: "0 1px" }}>X10</div>
      <div style={{ position: "absolute", left: 128, top: 814, width: 72, height: 14, background: "#1414b4", color: "#fff", fontFamily: "Liberation Sans", fontSize: 10, lineHeight: "14px", textAlign: "center" }}>{cursorTimeLabel}</div>
      <div style={{ position: "absolute", left: 1036, top: 813, width: 43, height: 16, background: "#000", color: "#f0f0f0", fontFamily: cjk, fontSize: 11, lineHeight: "16px", textAlign: "center" }}>{periodLabel}</div>
    </div>
  );
}
